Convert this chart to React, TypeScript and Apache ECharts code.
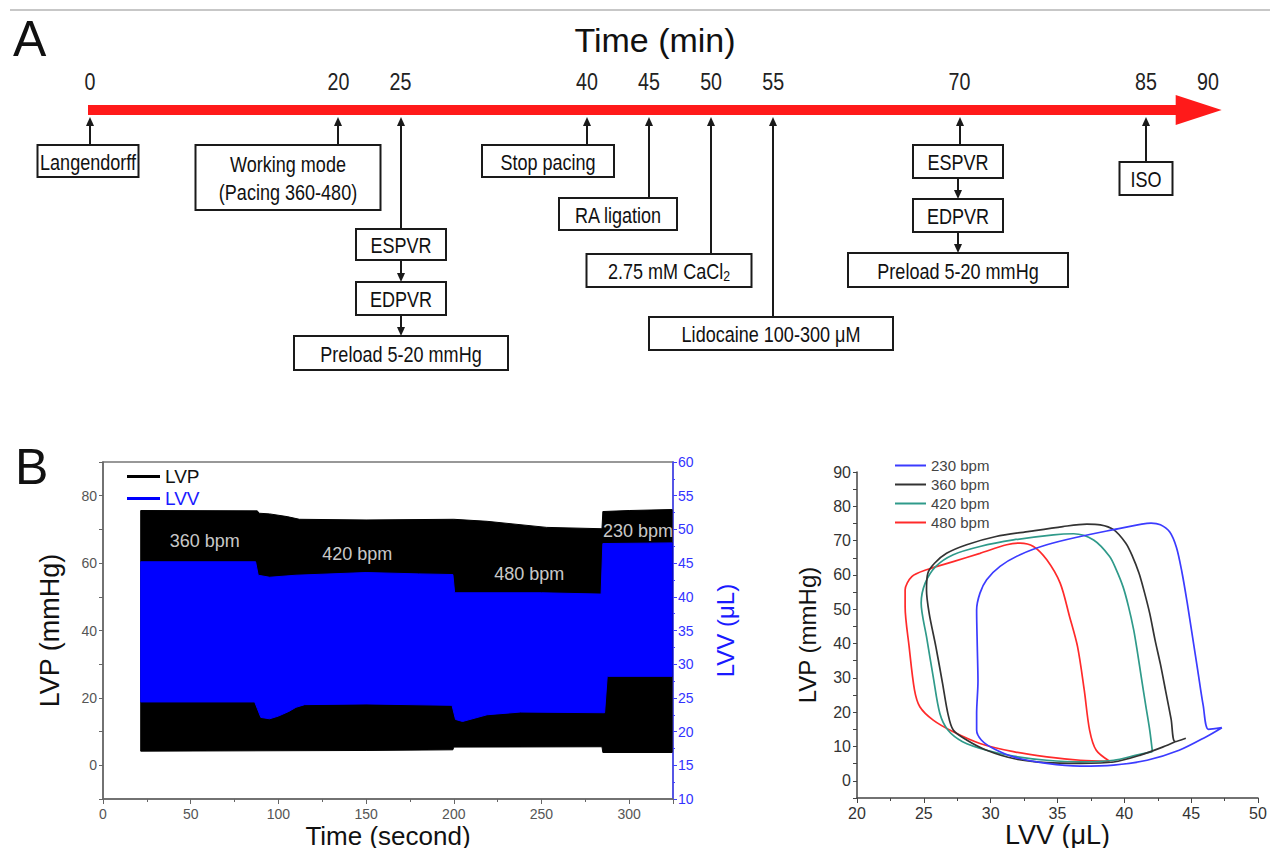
import { useEffect, useRef } from "react";
import * as echarts from "echarts";

const FONT = "'Liberation Sans', Arial, Helvetica, sans-serif";

// ---------- Panel A: protocol timeline (minutes) ----------
const timelineTicks = [0, 20, 25, 40, 45, 50, 55, 70, 85, 90];
const timelineBarEnd = 87.4; // where the arrow head starts (min)
const timelineTip = 91.1; // arrow tip (min)
const eventTimes = [0, 20, 25, 40, 45, 50, 55, 70, 85];
const eventSteps: string[][] = [
  ["Langendorff"],
  ["Working mode\n(Pacing 360-480)"],
  ["ESPVR", "EDPVR", "Preload 5-20 mmHg"],
  ["Stop pacing"],
  ["RA ligation"],
  ["2.75 mM CaCl{sub|2}"],
  ["Lidocaine 100-300 μM"],
  ["ESPVR", "EDPVR", "Preload 5-20 mmHg"],
  ["ISO"],
];
// layout of the annotation boxes (pixels)
const eventBoxLayout = [
  { dx: -2, tops: [145], heights: [32], widths: [101] },
  { dx: -50, tops: [145], heights: [65], widths: [185] },
  { dx: 0, tops: [229, 282, 336], heights: [31, 33, 34], widths: [90, 90, 214] },
  { dx: -39, tops: [145], heights: [32], widths: [132] },
  { dx: -31, tops: [198], heights: [32], widths: [118] },
  { dx: -42, tops: [254], heights: [33], widths: [165] },
  { dx: -2, tops: [317], heights: [33], widths: [244] },
  { dx: -2, tops: [145, 199, 253], heights: [33, 33, 34], widths: [90, 90, 220] },
  { dx: 0, tops: [162], heights: [33], widths: [53] },
];

// ---------- Panel B left: LVP / LVV traces (envelopes) ----------
const lvpUpperTime = [21.5, 88, 89, 95, 105, 112, 150, 200, 219, 253, 284.5, 285, 300, 324.5];
const lvpUpperVal = [75.6, 75.5, 74.8, 74.6, 73.8, 73.0, 72.8, 73.0, 72.4, 70.6, 70.2, 75.3, 75.6, 75.9];
const lvpLowerTime = [21.5, 150, 199.5, 200, 284.5, 285, 324.5];
const lvpLowerVal = [4.2, 4.4, 4.6, 5.4, 5.5, 3.8, 3.8];

const lvvUpperTime = [21.5, 87, 88.5, 95, 110, 150, 180, 199.5, 200.5, 250, 284, 285, 324.5];
const lvvUpperVal = [45.2, 45.2, 43.2, 42.9, 43.2, 43.6, 43.4, 43.3, 40.6, 40.6, 40.4, 47.9, 48.0];
const lvvLowerTime = [21.5, 86.5, 88, 90, 95, 100, 106, 110, 115, 150, 199, 201, 205, 219, 238, 284.5, 286, 287.5, 324.5];
const lvvLowerVal = [24.4, 24.4, 23.4, 22.1, 21.9, 22.3, 23.0, 23.6, 24.0, 24.1, 23.9, 21.8, 21.5, 22.5, 22.9, 22.8, 22.8, 28.2, 28.2];

const rateLabels = ["360 bpm", "420 bpm", "480 bpm", "230 bpm"];
const rateLabelTime = [58, 145, 243, 305];
const rateLabelLvp = [66.5, 62.6, 56.8, 69.4];

// ---------- Panel B right: PV loops ----------
const loopNames = ["230 bpm", "360 bpm", "420 bpm", "480 bpm"];
const loop230Vol = [47.3, 46.3, 45.9, 45.5, 45.1, 44.7, 44.3, 43.9, 43.4, 42.7, 42.0, 41.3, 39.2, 36.7, 34.2, 32.2, 30.7, 29.7, 29.2, 28.95, 29.0, 29.05, 28.95, 28.95, 29.3, 30.2, 31.7, 34.2, 36.7, 39.2, 41.7, 44.1, 46.1, 47.3];
const loop230Pres = [15.5, 15.0, 22, 32, 42, 52, 61, 68, 72.5, 74.6, 75.1, 74.8, 73.2, 71.2, 68.8, 65.9, 62.5, 58.6, 54.7, 49.8, 39, 29, 19.6, 14.8, 11.9, 9.4, 7.0, 5.1, 4.3, 4.6, 6.0, 8.9, 12.8, 15.5];
const loop360Vol = [44.6, 43.8, 43.5, 43.1, 42.7, 42.3, 41.9, 41.5, 41.1, 40.6, 40.1, 39.2, 38.2, 37.2, 35.4, 32.9, 30.4, 28.2, 26.7, 25.8, 25.3, 25.2, 25.4, 25.9, 26.4, 26.8, 27.2, 28.2, 29.7, 31.7, 34.2, 36.7, 39.2, 41.2, 42.9, 43.8];
const loop360Pres = [12.4, 11.4, 18, 26, 34, 41, 48.8, 55, 60.5, 65.5, 69.3, 73.2, 74.6, 74.8, 74.1, 72.7, 71.2, 68.8, 66.3, 63.4, 60.5, 55.6, 48.8, 39.1, 28.4, 19.6, 14.8, 11.9, 8.9, 6.5, 5.3, 5.1, 5.5, 7.5, 9.9, 11.4];
const loop420Vol = [42.1, 41.9, 41.6, 41.3, 41.0, 40.7, 40.3, 39.9, 39.4, 38.9, 37.7, 36.2, 34.7, 31.7, 29.2, 27.2, 25.9, 25.1, 24.8, 25.2, 25.7, 26.2, 26.8, 27.9, 29.7, 31.7, 34.2, 36.7, 39.2, 40.9, 42.1];
const loop420Pres = [8.5, 14.8, 22, 29.4, 37, 44, 51, 56.6, 61.5, 65.4, 70.2, 72.0, 71.7, 70.2, 68.3, 65.9, 62.5, 57.6, 51.8, 42, 30.4, 19.6, 14.8, 11.4, 8.9, 7.2, 6.0, 5.5, 6.0, 7.5, 8.5];
const loop480Vol = [38.9, 37.9, 37.4, 37.0, 36.5, 35.9, 35.2, 34.2, 33.2, 32.2, 31.2, 29.2, 27.2, 25.2, 24.1, 23.6, 23.6, 23.9, 24.3, 24.7, 25.7, 27.2, 29.2, 31.7, 34.2, 36.7, 38.9];
const loop480Pres = [5.7, 8.9, 14.8, 26.5, 39.1, 47.9, 57.6, 64.4, 68.3, 69.3, 68.8, 66.3, 63.9, 61.5, 59.5, 55.6, 50.8, 39.1, 26.5, 21.6, 17.7, 14.3, 10.9, 8.5, 7.0, 6.0, 5.7];
const loopColors = ["#3b3bff", "#333333", "#2f9a8a", "#ff2a2a"];

const zip = (a: number[], b: number[]) => a.map((v, i) => [v, b[i]]);

export default function App() {
  const ref = useRef<HTMLDivElement>(null);

  useEffect(() => {
    if (!ref.current) return;
    const chart = echarts.init(ref.current, undefined, { renderer: "svg" });

    const BAR_Y = 110;
    const BAR_H = 10;
    const narrowText = (x: number, y: number, text: string, size: number, extra: any = {}) => ({
      type: "text",
      x,
      y,
      scaleX: 0.82,
      style: {
        x: 0,
        y: 0,
        text,
        fontSize: size,
        fontFamily: FONT,
        fill: "#111",
        align: "center",
        verticalAlign: "middle",
        ...extra,
      },
    });

    const bandPolygon = (upT: number[], upV: number[], loT: number[], loV: number[], color: string) =>
      (params: any, api: any) => {
        const pts: number[][] = [];
        upT.forEach((t, i) => pts.push(api.coord([t, upV[i]])));
        for (let i = loT.length - 1; i >= 0; i--) pts.push(api.coord([loT[i], loV[i]]));
        return { type: "polygon", shape: { points: pts }, style: { fill: color, stroke: color, lineWidth: 1 } };
      };

    const loopVols = [loop230Vol, loop360Vol, loop420Vol, loop480Vol];
    const loopPres = [loop230Pres, loop360Pres, loop420Pres, loop480Pres];

    const option: any = {
      animation: false,
      textStyle: { fontFamily: FONT },
      graphic: [
        { type: "line", shape: { x1: 10, y1: 10, x2: 1270, y2: 10 }, style: { stroke: "#b5b5b5", lineWidth: 1.5 } },
        { type: "line", shape: { x1: 0, y1: 853, x2: 1280, y2: 853 }, style: { stroke: "#d0d0d0", lineWidth: 1.5 } },
        { type: "text", left: 13, top: 14, style: { text: "A", fontSize: 50, fontFamily: FONT, fill: "#111" } },
        { type: "text", left: 15, top: 442, style: { text: "B", fontSize: 50, fontFamily: FONT, fill: "#111" } },
        { type: "text", x: 655, y: 40, style: { text: "Time (min)", fontSize: 34, fontFamily: FONT, fill: "#111", align: "center", verticalAlign: "middle" } },
      ],
      legend: [
        {
          orient: "vertical",
          left: 122,
          top: 462,
          itemWidth: 33,
          itemHeight: 3,
          itemGap: 3,
          icon: "rect",
          textStyle: { fontSize: 19, color: "#111", fontFamily: FONT },
          data: [
            { name: "LVP" },
            { name: "LVV", textStyle: { color: "#1a1aff" } },
          ],
        },
        {
          orient: "vertical",
          left: 890,
          top: 453,
          itemWidth: 31,
          itemHeight: 2,
          itemGap: 4,
          icon: "rect",
          textStyle: { fontSize: 15, color: "#444", fontFamily: FONT },
          data: loopNames,
        },
      ],
      grid: [
        { left: 90, width: 1118, top: 0, height: 856, show: false },
        { left: 103, top: 462, width: 570, height: 337, show: true, borderColor: "#777", borderWidth: 1.5 },
        { left: 857, top: 472, width: 401, height: 326, show: false },
      ],
      xAxis: [
        { gridIndex: 0, type: "value", min: 0, max: 90, show: false },
        {
          gridIndex: 1,
          type: "value",
          min: 0,
          max: 325,
          interval: 50,
          name: "Time (second)",
          nameLocation: "middle",
          nameGap: 24,
          nameTextStyle: { fontSize: 26, color: "#111", fontFamily: FONT },
          axisLine: { onZero: false, lineStyle: { color: "#666", width: 1.5 } },
          axisTick: { length: 5, lineStyle: { color: "#666" } },
          minorTick: { show: true, splitNumber: 2, length: 3, lineStyle: { color: "#666" } },
          splitLine: { show: false },
          axisLabel: {
            fontSize: 14,
            color: "#555",
            margin: 8,
            formatter: (v: number) => (v % 50 === 0 ? String(v) : ""),
          },
        },
        {
          gridIndex: 2,
          type: "value",
          min: 20,
          max: 50,
          interval: 5,
          name: "LVV (μL)",
          nameLocation: "middle",
          nameGap: 22,
          nameTextStyle: { fontSize: 27, color: "#111", fontFamily: FONT },
          axisLine: { onZero: false, lineStyle: { color: "#444", width: 1.5 } },
          axisTick: { length: 5, lineStyle: { color: "#444" } },
          minorTick: { show: true, splitNumber: 2, length: 3, lineStyle: { color: "#444" } },
          splitLine: { show: false },
          axisLabel: { fontSize: 16, color: "#333", margin: 7 },
        },
      ],
      yAxis: [
        { gridIndex: 0, type: "value", min: 0, max: 856, inverse: true, show: false },
        {
          gridIndex: 1,
          type: "value",
          min: -10,
          max: 90,
          interval: 10,
          name: "LVP (mmHg)",
          nameLocation: "middle",
          nameRotate: 90,
          nameGap: 40,
          nameTextStyle: { fontSize: 27, color: "#111", fontFamily: FONT },
          axisLine: { onZero: false, lineStyle: { color: "#666", width: 1.5 } },
          axisTick: { length: 4, lineStyle: { color: "#666" } },
          splitLine: { show: false },
          axisLabel: {
            fontSize: 14,
            color: "#555",
            margin: 6,
            formatter: (v: number) => (v % 20 === 0 && v >= 0 && v <= 80 ? String(v) : ""),
          },
        },
        {
          gridIndex: 1,
          type: "value",
          position: "right",
          min: 10,
          max: 60,
          interval: 5,
          name: "LVV (μL)",
          nameLocation: "middle",
          nameRotate: 90,
          nameGap: 40,
          nameTextStyle: { fontSize: 24, color: "#1a1aff", fontFamily: FONT },
          axisLine: { show: true, onZero: false, lineStyle: { color: "#4040ff", width: 1.5 } },
          axisTick: { show: true, length: 4, lineStyle: { color: "#4040ff" } },
          minorTick: { show: true, splitNumber: 2, length: 2, lineStyle: { color: "#4040ff" } },
          splitLine: { show: false },
          axisLabel: { fontSize: 14, color: "#3333ff", margin: 5 },
        },
        {
          gridIndex: 2,
          type: "value",
          min: -5,
          max: 90,
          interval: 5,
          name: "LVP (mmHg)",
          nameLocation: "middle",
          nameRotate: 90,
          nameGap: 38,
          nameTextStyle: { fontSize: 24, color: "#111", fontFamily: FONT },
          axisLine: { onZero: false, lineStyle: { color: "#444", width: 1.5 } },
          axisTick: { length: 4, lineStyle: { color: "#444" } },
          splitLine: { show: false },
          axisLabel: {
            fontSize: 16,
            color: "#333",
            margin: 6,
            formatter: (v: number) => (v % 10 === 0 && v >= 0 ? String(v) : ""),
          },
        },
      ],
      series: [
        // red timeline bar with arrow head
        {
          type: "custom",
          xAxisIndex: 0,
          yAxisIndex: 0,
          silent: true,
          data: [[0, timelineBarEnd, timelineTip]],
          renderItem: (params: any, api: any) => {
            const x0 = api.coord([api.value(0), 0])[0];
            const x1 = api.coord([api.value(1), 0])[0];
            const x2 = api.coord([api.value(2), 0])[0];
            return {
              type: "group",
              children: [
                { type: "rect", shape: { x: x0 - 2, y: BAR_Y - BAR_H / 2, width: x1 - x0 + 4, height: BAR_H }, style: { fill: "#ff1a1a" } },
                { type: "polygon", shape: { points: [[x1, BAR_Y - 15], [x2, BAR_Y], [x1, BAR_Y + 15]] }, style: { fill: "#ff1a1a" } },
              ],
            };
          },
        },
        // timeline tick labels
        {
          type: "custom",
          xAxisIndex: 0,
          yAxisIndex: 0,
          silent: true,
          data: timelineTicks.map((t) => [t]),
          renderItem: (params: any, api: any) => {
            const x = api.coord([api.value(0), 0])[0];
            return narrowText(x, 82, String(api.value(0)), 24, { fill: "#222" });
          },
        },
        // events with arrows and boxes
        {
          type: "custom",
          xAxisIndex: 0,
          yAxisIndex: 0,
          silent: true,
          data: eventTimes.map((t, i) => [t, i]),
          renderItem: (params: any, api: any) => {
            const i = api.value(1);
            const x = Math.round(api.coord([api.value(0), 0])[0]);
            const lay = eventBoxLayout[i];
            const steps = eventSteps[i];
            const cx = x + lay.dx;
            const stroke = "#1a1a1a";
            const children: any[] = [];
            const arrowTop = BAR_Y + BAR_H / 2 + 2;
            children.push({ type: "line", shape: { x1: x, y1: arrowTop + 4, x2: x, y2: lay.tops[0] }, style: { stroke, lineWidth: 2 } });
            children.push({ type: "polygon", shape: { points: [[x, arrowTop], [x - 4, arrowTop + 9], [x + 4, arrowTop + 9]] }, style: { fill: stroke } });
            steps.forEach((s, k) => {
              const top = lay.tops[k];
              const h = lay.heights[k];
              const w = lay.widths[k];
              if (k > 0) {
                const prevBottom = lay.tops[k - 1] + lay.heights[k - 1];
                children.push({ type: "line", shape: { x1: cx, y1: prevBottom, x2: cx, y2: top - 4 }, style: { stroke, lineWidth: 2 } });
                children.push({ type: "polygon", shape: { points: [[cx, top], [cx - 4, top - 9], [cx + 4, top - 9]] }, style: { fill: stroke } });
              }
              children.push({
                type: "rect",
                shape: { x: cx - w / 2, y: top, width: w, height: h },
                style: { fill: "#fff", stroke, lineWidth: 2 },
              });
              children.push(
                narrowText(cx, top + h / 2 + 1, s, 22, {
                  lineHeight: 28,
                  rich: { sub: { fontSize: 15, fontFamily: FONT, fill: "#111", padding: [9, 0, 0, 0] } },
                })
              );
            });
            return { type: "group", children };
          },
        },
        // LVP band
        {
          name: "LVP",
          type: "custom",
          xAxisIndex: 1,
          yAxisIndex: 1,
          silent: true,
          itemStyle: { color: "#000" },
          data: [[0, 0]],
          renderItem: bandPolygon(lvpUpperTime, lvpUpperVal, lvpLowerTime, lvpLowerVal, "#000"),
        },
        // LVV band
        {
          name: "LVV",
          type: "custom",
          xAxisIndex: 1,
          yAxisIndex: 2,
          silent: true,
          itemStyle: { color: "#0000ff" },
          data: [[0, 0]],
          renderItem: bandPolygon(lvvUpperTime, lvvUpperVal, lvvLowerTime, lvvLowerVal, "#0000ff"),
        },
        // rate labels inside the trace
        {
          name: "rateLabels",
          type: "scatter",
          xAxisIndex: 1,
          yAxisIndex: 1,
          silent: true,
          symbolSize: 0,
          data: rateLabels.map((n, i) => ({ name: n, value: [rateLabelTime[i], rateLabelLvp[i]] })),
          label: {
            show: true,
            position: "inside",
            formatter: (p: any) => p.name,
            color: "#fff",
            fontSize: 18,
            fontFamily: FONT,
          },
        },
        // PV loops
        ...loopNames.map((name, k) => ({
          name,
          type: "line",
          xAxisIndex: 2,
          yAxisIndex: 3,
          data: zip(loopVols[k], loopPres[k]),
          smooth: 0.3,
          showSymbol: false,
          symbol: "none",
          lineStyle: { color: loopColors[k], width: 1.7 },
          itemStyle: { color: loopColors[k] },
          z: 10 - k,
        })),
      ],
    };

    chart.setOption(option);
    return () => chart.dispose();
  }, []);

  return <div ref={ref} style={{ width: 1280, height: 856, margin: -8 }} />;
}
